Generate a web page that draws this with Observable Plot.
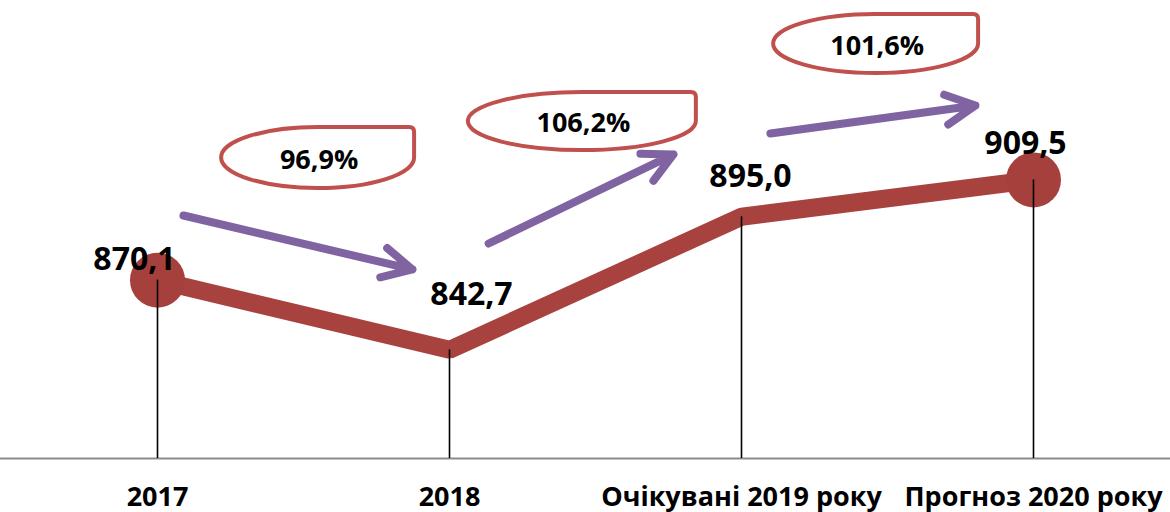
<!DOCTYPE html>
<html>
<head>
<meta charset="utf-8">
<script src="https://cdn.jsdelivr.net/npm/d3@7"></script>
<script src="https://cdn.jsdelivr.net/npm/@observablehq/plot@0.6"></script>
<style>
  html, body { margin: 0; padding: 0; background: #ffffff; }
  #chart svg { display: block; }
</style>
</head>
<body>
<div id="chart"></div>
<script>
// ---- data ----
const categories = ["2017", "2018", "Очікувані 2019 року", "Прогноз 2020 року"];
const values = [870.1, 842.7, 895.0, 909.5];
const valueLabels = ["870,1", "842,7", "895,0", "909,5"];
const growthLabels = ["96,9%", "106,2%", "101,6%"];

// annotation anchors in data units (x = category index, y = value units)
const arrowX1 = [0.089, 1.134, 2.099];
const arrowY1 = [895.5, 884.5, 927.7];
const arrowX2 = [0.873, 1.767, 2.801];
const arrowY2 = [874.3, 919.5, 938.7];
const bubbleX = [0.550, 1.455, 2.461];
const bubbleY = [918.1, 932.4, 962.9];

// ---- derived tables ----
const points = categories.map((c, i) => ({i, category: c, value: values[i], label: valueLabels[i]}));
const arrows = arrowX1.map((_, k) => ({x1: arrowX1[k], y1: arrowY1[k], x2: arrowX2[k], y2: arrowY2[k]}));
const bubbles = bubbleX.map((_, k) => ({x: bubbleX[k], y: bubbleY[k], label: growthLabels[k]}));

// ---- styles ----
const FONT = "'Open Sans', 'Noto Sans', sans-serif";
const LINE_COLOR = "#a8423f";
const DOT_COLOR = "#a5403d";
const ARROW_COLOR = "#8064a2";
const BUBBLE_STROKE = "#c0504d";
const bubbleRx = [96.5, 114, 102.5];
const bubbleRy = [30.5, 29, 29.5];
const labelOffsets = [[-23, -20], [22, -55], [9, -40], [-8, -36]];

function bubbleMark(index, scales) {
  const g = d3.create("svg:g");
  bubbles.forEach((b, k) => {
    const cx = scales.x(b.x), cy = scales.y(b.y);
    const rx = bubbleRx[k], ry = bubbleRy[k], rc = 5;
    const path = [
      `M${cx - rx},${cy}`,
      `A${rx},${ry} 0 0 1 ${cx},${cy - ry}`,
      `L${cx + rx - rc},${cy - ry}`,
      `Q${cx + rx},${cy - ry} ${cx + rx},${cy - ry + rc}`,
      `L${cx + rx},${cy}`,
      `A${rx},${ry} 0 0 1 ${cx},${cy + ry}`,
      `A${rx},${ry} 0 0 1 ${cx - rx},${cy}`,
      "Z"
    ].join(" ");
    g.append("path")
      .attr("d", path)
      .attr("fill", "#ffffff")
      .attr("stroke", BUBBLE_STROKE)
      .attr("stroke-width", 4);
  });
  return g.node();
}

const labelMarks = points.map((p, k) =>
  Plot.text([p], {
    x: "i", y: "value", text: "label",
    dx: labelOffsets[k][0], dy: labelOffsets[k][1],
    fontSize: 32, fontWeight: "bold", fontFamily: FONT,
    fill: "#000", lineAnchor: "middle", textAnchor: "middle"
  })
);

const chart = Plot.plot({
  width: 1170,
  height: 512,
  marginTop: 0,
  marginBottom: 54,
  marginLeft: 0,
  marginRight: 0,
  style: {background: "#ffffff", overflow: "visible", fontFamily: FONT, color: "#000"},
  x: {type: "linear", domain: [0, 3], range: [157, 1033], axis: null},
  y: {domain: [800, 980], axis: null},
  marks: [
    Plot.ruleY([800], {stroke: "#8c8c8c", strokeWidth: 2}),
    Plot.line(points, {x: "i", y: "value", stroke: LINE_COLOR, strokeWidth: 18, strokeLinejoin: "miter", strokeLinecap: "butt"}),
    Plot.dot([points[0], points[points.length - 1]], {x: "i", y: "value", r: 27.5, fill: DOT_COLOR, stroke: null}),
    Plot.ruleX(points, {x: "i", y1: 800, y2: "value", stroke: "#000", strokeWidth: 1.6}),
    Plot.arrow(arrows, {x1: "x1", y1: "y1", x2: "x2", y2: "y2", stroke: ARROW_COLOR, strokeWidth: 8, headLength: 6.2, headAngle: 54, strokeLinecap: "round", strokeLinejoin: "round"}),
    bubbleMark,
    Plot.text(bubbles, {x: "x", y: "y", text: "label", fontSize: 27, fontWeight: "bold", fontFamily: FONT, fill: "#000", lineAnchor: "middle", textAnchor: "middle", dx: 1, dy: 2}),
    ...labelMarks,
    Plot.axisX({
      ticks: [0, 1, 2, 3],
      tickFormat: (d) => categories[d],
      tickSize: 0,
      tickPadding: 28,
      fontSize: 27,
      fontWeight: "bold",
      fontFamily: FONT,
      fill: "#000",
      label: null
    })
  ]
});

document.getElementById("chart").appendChild(chart);
</script>
</body>
</html>
